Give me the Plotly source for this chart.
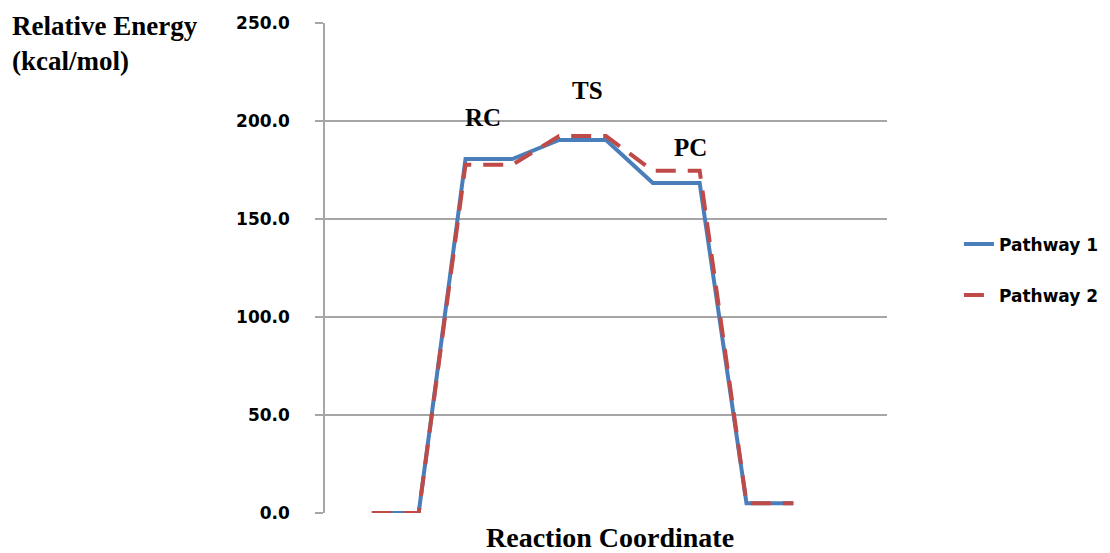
import plotly.graph_objects as go

# Data
x_points = [1, 2, 3, 4, 5, 6, 7, 8, 9, 10]
pathway1 = [0.0, 0.0, 180.6, 180.6, 190.3, 190.3, 168.4, 168.4, 5.0, 5.0]
pathway2 = [0.0, 0.0, 177.7, 177.7, 192.3, 192.3, 174.6, 174.6, 5.0, 5.0]
y_ticks = [0, 50, 100, 150, 200, 250]
y_tick_labels = ["0.0", "50.0", "100.0", "150.0", "200.0", "250.0"]
labels = ["RC", "TS", "PC"]
label_x = [3.37, 5.6, 7.81]
label_y = [202, 215.8, 186.7]

serif = "Liberation Serif, Times New Roman, serif"
sans = "DejaVu Sans, Verdana, sans-serif"

fig = go.Figure()
fig.add_trace(go.Scatter(x=x_points, y=pathway1, mode="lines", name="Pathway 1",
                         legendgroup="p1",
                         line=dict(color="#4A7EBB", width=4)))
fig.add_trace(go.Scatter(x=x_points, y=pathway2, mode="lines", name="Pathway 2",
                         legendgroup="p2",
                         line=dict(color="#BE4B48", width=4, dash="20px,12px")))

for t, ax, ay in zip(labels, label_x, label_y):
    fig.add_annotation(x=ax, y=ay, text="<b>" + t + "</b>", showarrow=False,
                       font=dict(family=serif, size=25, color="black"))

fig.add_annotation(xref="paper", yref="paper", x=-0.56, y=1.028, xanchor="left", yanchor="top",
                   text="<b>Relative Energy<br>(kcal/mol)</b>", showarrow=False, align="left",
                   font=dict(family=serif, size=27, color="black"))

fig.add_annotation(xref="paper", yref="paper", x=0.507, y=-0.049, xanchor="center", yanchor="middle",
                   text="<b>Reaction Coordinate</b>", showarrow=False,
                   font=dict(family=serif, size=28, color="black"))

fig.update_layout(
    width=1110, height=553,
    margin=dict(l=325, r=223, t=23, b=40, autoexpand=False),
    plot_bgcolor="white", paper_bgcolor="white",
    showlegend=True,
    legend=dict(x=1.128, y=0.496, xanchor="left", yanchor="middle",
                traceorder="grouped", tracegroupgap=26,
                font=dict(family=sans, size=17, color="black", weight="bold")),
    xaxis=dict(range=[0, 12], showticklabels=False, showgrid=False, zeroline=False,
               showline=False, ticks="", automargin=False),
    yaxis=dict(range=[0, 250], tickvals=y_ticks, ticktext=y_tick_labels,
               showgrid=True, gridcolor="#A6A6A6", gridwidth=1.5,
               zeroline=False, showline=True, linecolor="#A6A6A6", linewidth=1.5,
               ticks="outside", ticklen=8, tickcolor="#A6A6A6", tickwidth=1.5,
               ticklabelstandoff=22, automargin=False,
               tickfont=dict(family=sans, size=17, color="black", weight="bold")),
)

fig.write_html("out.html")
